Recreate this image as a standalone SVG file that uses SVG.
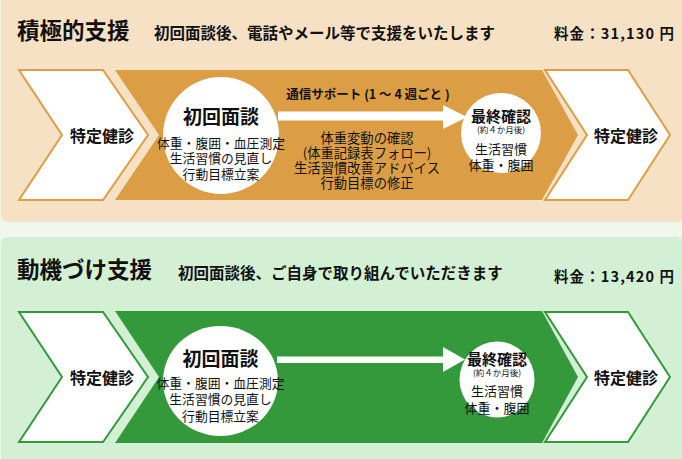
<svg xmlns="http://www.w3.org/2000/svg" width="682" height="459" viewBox="0 0 682 459">
<style>
text{font-family:"Noto Sans CJK JP","Noto Sans",sans-serif;fill:#111;dominant-baseline:central}
.b{font-weight:bold}
.m{text-anchor:middle}
.chev{fill:#fff;stroke-width:2;stroke-linejoin:miter}
.o .chev{stroke:#dc9e44}
.g .chev{stroke:#33993b}
.circ{fill:#fff}
.arrow{fill:#fff}
</style>
<rect x="0" y="0" width="682" height="459" fill="#eff6ec"/>
<g id="panel-active" class="o">
<rect x="1" y="-6" width="682" height="228" rx="6" fill="#f7e1c4"/>
<text x="17" y="29" class="b" font-size="22.5">積極的支援</text>
<text x="154" y="32" class="b" font-size="15.5">初回面談後、電話やメール等で支援をいたします</text>
<text x="554" y="32" class="b" font-size="14.5" textLength="120" lengthAdjust="spacing">料金：31,130 円</text>
<g id="a-start"><polygon class="chev" points="19,70 103,70 148,135 103,200 19,200 62,135"/><text x="102" y="135" class="b m" font-size="16">特定健診</text></g>
<g id="a-band"><polygon fill="#dc9e44" points="115,70 542,70 578,135 542,200 115,200 159,135"/>
<text x="368" y="93" class="b m" font-size="12.5">通信サポート (1 ～ 4 週ごと )</text>
<text x="367" y="137" class="m" font-size="13.3">体重変動の確認</text>
<text x="367" y="152" class="m" font-size="13.3">(体重記録表フォロー)</text>
<text x="367" y="167" class="m" font-size="13.3">生活習慣改善アドバイス</text>
<text x="367" y="182" class="m" font-size="13.3">行動目標の修正</text></g>
<g id="a-first"><ellipse class="circ" cx="221" cy="135.5" rx="58" ry="58.5"/>
<text x="221" y="115" class="b m" font-size="19">初回面談</text>
<text x="221" y="142" class="m" font-size="12.8">体重・腹囲・血圧測定</text>
<text x="221" y="157.5" class="m" font-size="12.8">生活習慣の見直し</text>
<text x="221" y="173" class="m" font-size="12.8">行動目標立案</text></g>
<g id="a-final"><ellipse class="circ" cx="501" cy="133" rx="40" ry="40"/>
<text x="501" y="115" class="b m" font-size="15">最終確認</text>
<text x="501" y="129" class="m" font-size="8.5">(約４か月後)</text>
<text x="501" y="148" class="m" font-size="13">生活習慣</text>
<text x="501" y="164" class="m" font-size="13">体重・腹囲</text></g>
<g id="a-end"><polygon class="chev" points="545,70 628,70 670,135 628,200 545,200 587,135"/><text x="626" y="135" class="b m" font-size="16">特定健診</text></g>
</g>
<g id="panel-motivation" class="g">
<rect x="1" y="237" width="682" height="230" rx="6" fill="#d4f0d4"/>
<text x="17" y="268" class="b" font-size="22.5">動機づけ支援</text>
<text x="178" y="272" class="b" font-size="15.5">初回面談後、ご自身で取り組んでいただきます</text>
<text x="554" y="275" class="b" font-size="14.5" textLength="120" lengthAdjust="spacing">料金：13,420 円</text>
<g id="m-start"><polygon class="chev" points="19,312 103,312 148,377 103,442 19,442 62,377"/><text x="102" y="377" class="b m" font-size="16">特定健診</text></g>
<g id="m-band"><polygon fill="#33993b" points="115,311 542,311 578,377 542,443 115,443 159,377"/></g>
<g id="m-first"><ellipse class="circ" cx="220.5" cy="381" rx="57.5" ry="55"/>
<text x="220.5" y="357" class="b m" font-size="19">初回面談</text>
<text x="220.5" y="382" class="m" font-size="12.8">体重・腹囲・血圧測定</text>
<text x="220.5" y="398.5" class="m" font-size="12.8">生活習慣の見直し</text>
<text x="220.5" y="415" class="m" font-size="12.8">行動目標立案</text></g>
<g id="m-final"><ellipse class="circ" cx="497" cy="379.5" rx="37.5" ry="38"/>
<text x="497" y="358" class="b m" font-size="15">最終確認</text>
<text x="497" y="372" class="m" font-size="8.5">(約４か月後)</text>
<text x="497" y="390" class="m" font-size="13">生活習慣</text>
<text x="497" y="407" class="m" font-size="13">体重・腹囲</text></g>
<g id="m-end"><polygon class="chev" points="545,312 628,312 670,377 628,442 545,442 587,377"/><text x="626" y="377" class="b m" font-size="16">特定健診</text></g>
</g>
<g id="connectors">
<polygon class="arrow" points="278,111.5 443,111.5 443,105 467,117 443,129 443,120.5 278,120.5"/>
<polygon class="arrow" points="277,356.5 443,356.5 443,347 465,359.5 443,372 443,363 277,363"/>
</g>
</svg>
